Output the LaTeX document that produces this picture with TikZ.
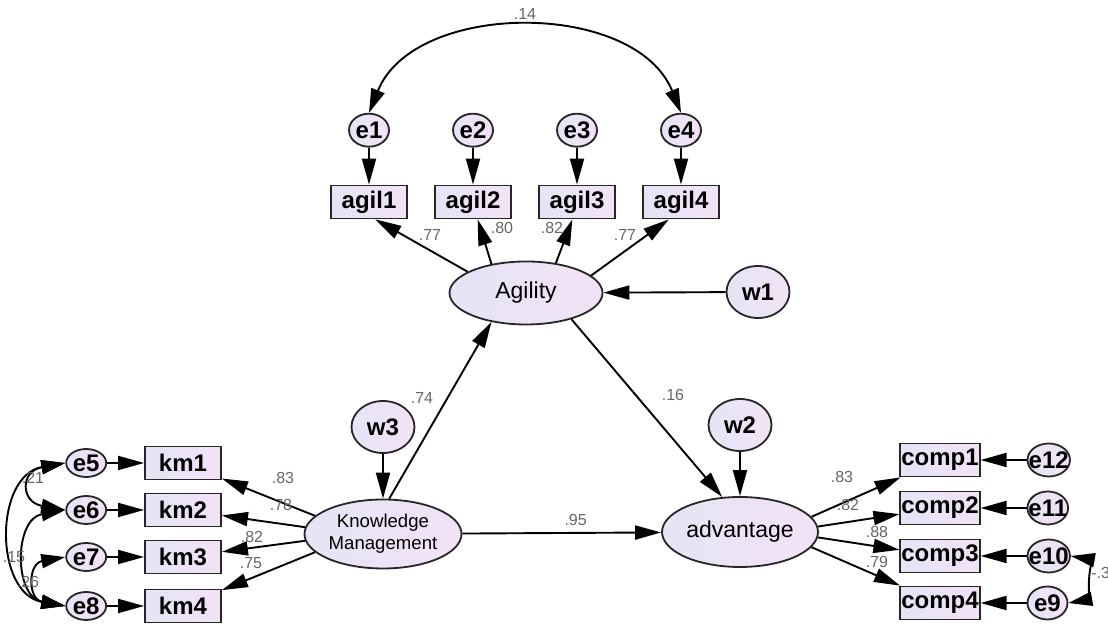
\documentclass[tikz,border=0pt]{standalone}
\usepackage{fontspec}
\setmainfont{Liberation Sans}
\usetikzlibrary{shapes.geometric, arrows.meta}
\usetikzlibrary{positioning}
\definecolor{lavL}{RGB}{228,229,246}
\definecolor{lavR}{RGB}{243,226,246}
\tikzstyle{obs} = [rectangle, draw=black!85, line width=0.9pt, left color=lavL, right color=lavR, minimum width=38pt, minimum height=16.5pt, inner sep=0.5pt, font=\bfseries\fontsize{12}{14}\selectfont]
\tikzstyle{lat} = [ellipse, draw=black!85, line width=0.9pt, left color=lavL, right color=lavR, inner sep=0pt, font=\fontsize{11.5}{13}\selectfont]
\tikzstyle{dist} = [lat, minimum width=31.5pt, minimum height=26pt, font=\bfseries\fontsize{12}{14}\selectfont]
\tikzstyle{err} = [ellipse, draw=black!85, line width=0.9pt, left color=lavL, right color=lavR, inner sep=-2.5pt, minimum width=20pt, minimum height=16.5pt, font=\bfseries\fontsize{12}{14}\selectfont]
\tikzstyle{arrow} = [line width=0.95pt, ->, >={Triangle[length=13pt, width=7pt]}]
\tikzstyle{cov} = [line width=0.95pt, <->, >={Triangle[length=12pt, width=7pt]}]
\tikzstyle{coef} = [inner sep=0pt, text=black!60, font=\fontsize{8}{9}\selectfont]

\begin{document}
\begin{tikzpicture}[x=0.5pt, y=0.5pt]
\useasboundingbox (0,0) rectangle (1108,630);

% agility block
\node (Agility) [lat, minimum width=76.5pt, minimum height=31.5pt] at (526,337) {Agility};
\node (w1) [dist] at (758,338) {w1};
\node (agil1) [obs] at (369,428) {agil1};
\node (agil2) [obs] at (473,428) {agil2};
\node (agil3) [obs] at (577,428) {agil3};
\node (agil4) [obs] at (681,428) {agil4};
\node (e1) [err, above=18.5pt of agil1] {e1};
\node (e2) [err, above=18.5pt of agil2] {e2};
\node (e3) [err, above=18.5pt of agil3] {e3};
\node (e4) [err, above=18.5pt of agil4] {e4};

% knowledge management block
\node (KM) [lat, minimum width=78.5pt, minimum height=34.5pt, align=center, font=\fontsize{9.3}{11}\selectfont] at (383,96) {Knowledge\\Management};
\node (w3) [dist] at (383,203) {w3};
\node (km1) [obs] at (183,167) {km1};
\node (km2) [obs] at (183,120) {km2};
\node (km3) [obs] at (183,73) {km3};
\node (km4) [obs] at (183,24) {km4};
\node (e5) [err, minimum height=14pt, left=18.5pt of km1] {e5};
\node (e6) [err, minimum height=14pt, left=18.5pt of km2] {e6};
\node (e7) [err, minimum height=14pt, left=18.5pt of km3] {e7};
\node (e8) [err, minimum height=14pt, left=18.5pt of km4] {e8};

% advantage block
\node (advantage) [lat, minimum width=78pt, minimum height=35pt] at (740,98) {advantage};
\node (w2) [dist] at (740,205) {w2};
\node (comp1) [obs] at (940,170) {comp1};
\node (comp2) [obs] at (940,122) {comp2};
\node (comp3) [obs] at (940,74) {comp3};
\node (comp4) [obs] at (940,27) {comp4};
\node (e12) [err, right=23pt of comp1] {e12};
\node (e11) [err, right=23pt of comp2] {e11};
\node (e10) [err, right=23pt of comp3] {e10};
\node (e9) [err, right=23pt of comp4] {e9};

% paths
\draw [arrow] (e1) -- (agil1);
\draw [arrow] (e2) -- (agil2);
\draw [arrow] (e3) -- (agil3);
\draw [arrow] (e4) -- (agil4);
\draw [arrow] (Agility.160) -- (agil1.290);
\draw [arrow] (Agility.140) -- (agil2.285);
\draw [arrow] (Agility.45) -- (agil3.255);
\draw [arrow] (Agility.15) -- (agil4.235);
\draw [arrow] (w1) -- (Agility);
\draw [arrow] (KM.80) -- (Agility.220);
\draw [arrow] (Agility.-30) -- (advantage.117);
\draw [arrow] (w3) -- (KM);
\draw [arrow] (w2) -- (advantage);
\draw [arrow] (KM) -- node[coef, pos=0.57, above=3pt] {.95} (advantage);

\draw [arrow] (KM.165) -- (km1);
\draw [arrow] (KM.175) -- (km2);
\draw [arrow] (KM.185) -- (km3);
\draw [arrow] (KM.195) -- (km4);
\draw [arrow] (e5) -- (km1);
\draw [arrow] (e6) -- (km2);
\draw [arrow] (e7) -- (km3);
\draw [arrow] (e8) -- (km4);

\draw [arrow] (advantage.12) -- (comp1);
\draw [arrow] (advantage.4) -- (comp2);
\draw [arrow] (advantage.-4) -- (comp3);
\draw [arrow] (advantage.-12) -- (comp4);
\draw [arrow] (e12) -- (comp1);
\draw [arrow] (e11) -- (comp2);
\draw [arrow] (e10) -- (comp3);
\draw [arrow] (e9) -- (comp4);

% covariances
\draw [cov] (e1.north) to[bend left=68] node[coef, above=4pt] {.14} (e4.north);
\draw [cov] (e5.west) to[out=190, in=170, looseness=2.5] (e6.west);
\draw [cov] (e5.west) to[out=190, in=170, looseness=1.3] (e8.west);
\draw [cov] (e6.west) to[out=190, in=170, looseness=1.4] (e8.west);
\draw [cov] (e7.west) to[out=190, in=170, looseness=2] (e8.west);
\draw [cov] (e10.east) to[out=-10, in=10, looseness=1] (e9.east);

% coefficients
\node (l1) [coef] at (430,395) {.77};
\node (l2) [coef] at (502,402) {.80};
\node (l3) [coef] at (552,402) {.82};
\node (l4) [coef] at (625,395) {.77};
\node (l5) [coef] at (422,232) {.74};
\node (l6) [coef] at (673,235) {.16};
\node (l7) [coef] at (283,152) {.83};
\node (l8) [coef] at (281,125) {.78};
\node (l9) [coef] at (252,93) {.82};
\node (l10) [coef] at (251,67) {.75};
\node (l11) [coef] at (842,153) {.83};
\node (l12) [coef] at (848,125) {.82};
\node (l13) [coef] at (877,98) {.88};
\node (l14) [coef] at (877,68) {.79};
\node (l15) [coef] at (33,152) {.21};
\node (l16) [coef] at (14,73) {.15};
\node (l17) [coef] at (28,48) {.26};
\node (l18) [coef, anchor=west] at (1091,57) {-.3};

\end{tikzpicture}
\end{document}
